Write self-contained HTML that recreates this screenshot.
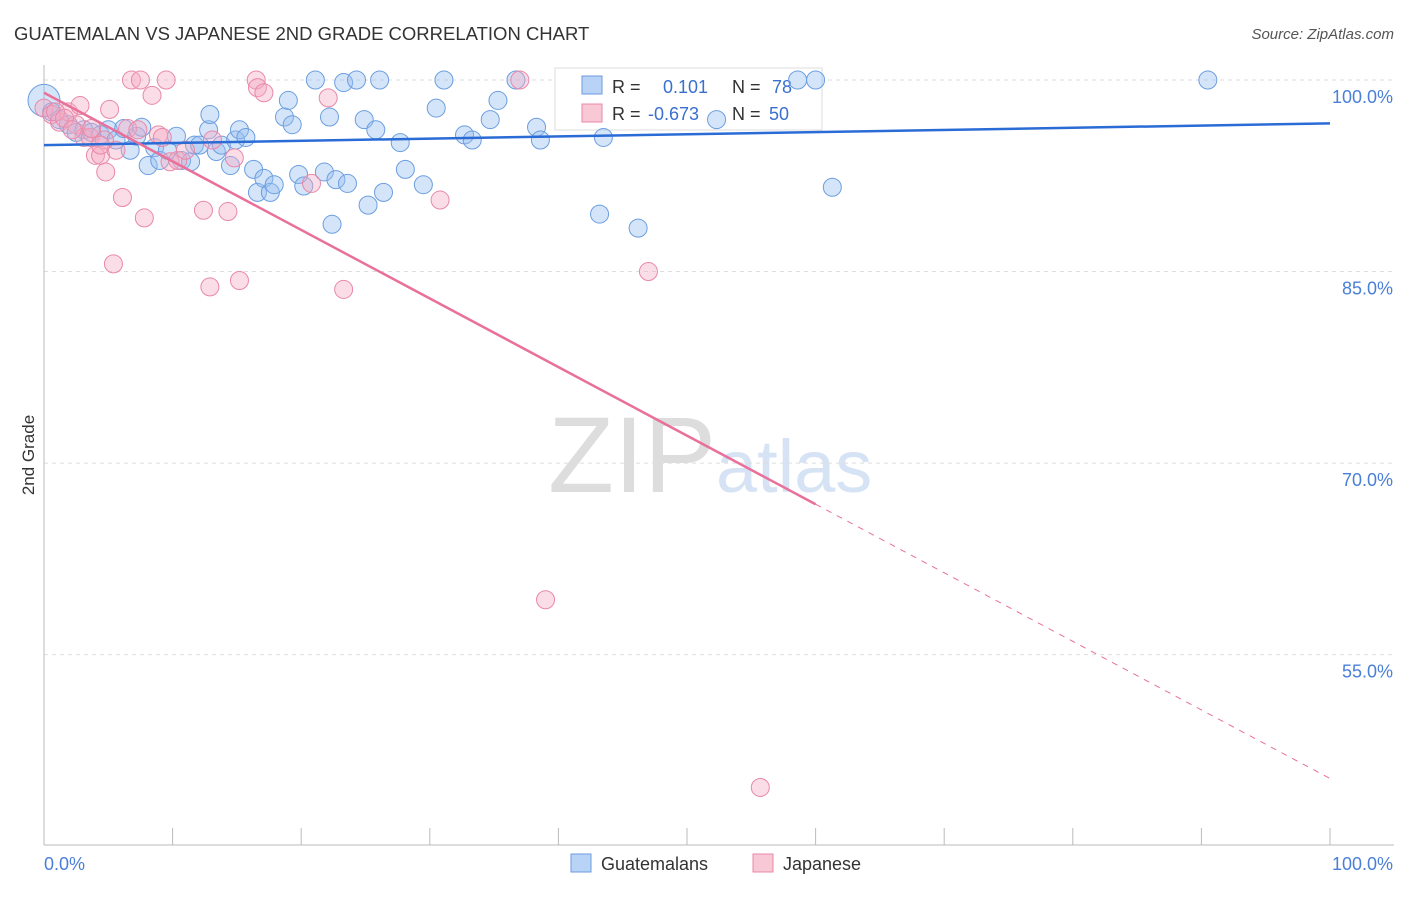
<!DOCTYPE html>
<html><head><meta charset="utf-8"><style>
body{margin:0;background:#fff;font-family:"Liberation Sans",sans-serif}
svg text{font-family:"Liberation Sans",sans-serif}
</style></head><body>
<svg id="c" width="1406" height="892">
<text x="14" y="40" font-size="18.5" fill="#333">GUATEMALAN VS JAPANESE 2ND GRADE CORRELATION CHART</text>
<text x="1394" y="39" font-size="15" fill="#555" font-style="italic" text-anchor="end">Source: ZipAtlas.com</text>
<text x="716" y="492" font-size="108" fill="#ddd" text-anchor="end" font-family="Liberation Serif">ZIP</text>
<text x="716" y="492" font-size="74" fill="#d6e3f5">atlas</text>
<text transform="translate(34,455) rotate(-90)" font-size="17" fill="#333" text-anchor="middle">2nd Grade</text>
<g id="grid"></g>
<g>
<rect x="555" y="68" width="267" height="62" fill="#fff" stroke="#ddd"/>
<rect x="582" y="76" width="20" height="18" fill="#b8d3f5" stroke="#6b9ee0"/>
<rect x="582" y="104" width="20" height="18" fill="#f8c8d6" stroke="#e889a8"/>
<text x="612" y="93" font-size="18" fill="#333">R = <tspan x="663" fill="#3a6fd0">0.101</tspan><tspan x="732" fill="#333">N = </tspan><tspan x="772" fill="#3a6fd0">78</tspan></text>
<text x="612" y="120" font-size="18" fill="#333">R = <tspan x="648" fill="#3a6fd0">-0.673</tspan><tspan x="732" fill="#333">N = </tspan><tspan x="769" fill="#3a6fd0">50</tspan></text>
</g>
<g id="pts"></g><g id="lines"></g>
<g>
<rect x="571" y="854" width="20" height="18" fill="#b8d3f5" stroke="#6b9ee0"/>
<text x="601" y="870" font-size="18" fill="#333">Guatemalans</text>
<rect x="753" y="854" width="20" height="18" fill="#f8c8d6" stroke="#e889a8"/>
<text x="783" y="870" font-size="18" fill="#333">Japanese</text>
</g>
</svg>
<script>
const yTicks=[100,85,70,55];
const xTickLabels=["0.0%","100.0%"];
const blueX=[0,0.6,1.2,1.9,2.5,3.1,3.7,4.4,5.0,5.6,6.2,6.7,7.2,7.6,8.1,8.6,9.0,9.6,10.3,10.7,11.4,11.7,12.1,12.8,12.9,13.4,13.8,14.5,14.9,15.2,15.7,16.3,16.6,17.1,17.6,17.9,18.7,19.0,19.3,19.8,20.2,21.1,21.8,22.2,22.7,23.3,23.6,24.3,24.9,25.2,25.8,26.1,26.4,27.7,28.1,29.5,30.5,31.1,32.7,33.3,34.7,35.3,36.7,38.3,38.6,43.2,43.5,46.2,52.3,58.6,60.0,61.3,90.5,22.4];
const blueY=[98.4,97.5,96.9,96.5,95.9,96.1,95.9,95.7,96.1,95.3,96.2,94.5,95.6,96.3,93.3,94.7,93.7,94.5,95.6,93.7,93.6,94.9,94.9,96.1,97.3,94.4,94.9,93.3,95.3,96.1,95.5,93.0,91.2,92.3,91.2,91.8,97.1,98.4,96.5,92.6,91.7,100,92.8,97.1,92.2,99.8,91.9,100,96.9,90.2,96.1,100,91.2,95.1,93.0,91.8,97.8,100,95.7,95.3,96.9,98.4,100,96.3,95.3,89.5,95.5,88.4,96.9,100,100,91.6,100,88.7];
const pinkX=[0,0.6,1.2,1.9,2.5,2.8,3.1,3.6,4.0,4.4,4.8,5.1,5.6,6.1,6.5,6.8,7.5,7.8,8.4,8.9,9.2,9.5,9.8,10.4,12.4,13.1,14.3,14.8,15.2,12.9,16.5,16.6,17.1,5.4,20.8,22.1,23.3,30.8,37.0,39.0,47.0,55.7,0.9,1.6,2.2,4.7,7.3,11.0,4.4,3.7];
const pinkY=[97.8,97.3,96.7,97.5,96.5,98.0,95.5,95.5,94.1,94.1,92.8,97.7,94.5,90.8,96.2,100,100,89.2,98.8,95.7,95.5,100,93.6,93.7,89.8,95.3,89.7,93.9,84.3,83.8,100,99.4,99.0,85.6,91.9,98.6,83.6,90.6,100,59.3,85.0,44.6,97.5,97.0,96.1,95.3,96.1,94.5,94.9,96.2];
const blueTrend=[94.9,96.6];
const pinkTrend=[99.0,45.3];
const NS="http://www.w3.org/2000/svg";
const X=v=>44+v*12.86, Y=v=>80+(100-v)*12.77;
function mk(t,a,p){const e=document.createElementNS(NS,t);for(const k in a)e.setAttribute(k,a[k]);p.appendChild(e);return e;}
const g=document.getElementById('grid');
yTicks.forEach(t=>{
 const l=mk('line',{x1:44,x2:1394,y1:Y(t),y2:Y(t),stroke:'#ddd','stroke-dasharray':'4,4'},g);
 
 
 const tx=mk('text',{x:1393,y:Y(t)+23,'font-size':18,fill:'#4a7fd8','text-anchor':'end'},g);
 tx.textContent=t.toFixed(1)+'%';
 
 
});
const ax=mk('line',{x1:44,x2:1394,y1:845,y2:845,stroke:'#bbb'},g);


const ay=mk('line',{x1:44,x2:44,y1:65,y2:845,stroke:'#bbb'},g);


for(let i=0;i<=10;i++){const l=mk('line',{x1:X(i*10),x2:X(i*10),y1:828,y2:845,stroke:'#bbb'},g);
 
 }
const t0=mk('text',{x:44,y:870,'font-size':18,fill:'#4a7fd8'},g);t0.textContent=xTickLabels[0];


const t1=mk('text',{x:1393,y:870,'font-size':18,fill:'#4a7fd8','text-anchor':'end'},g);t1.textContent=xTickLabels[1];


const P=document.getElementById('pts');
blueX.forEach((x,i)=>{const c=mk('circle',{cx:X(x),cy:Y(blueY[i]),r:i==0?16:9,fill:'rgba(150,190,240,0.4)',stroke:'#6b9ee0','stroke-width':1},P);
 
 });
pinkX.forEach((x,i)=>{const c=mk('circle',{cx:X(x),cy:Y(pinkY[i]),r:9,fill:'rgba(244,170,195,0.4)',stroke:'#e889a8','stroke-width':1},P);
 
 });
const L=document.getElementById('lines');
const bl=mk('line',{x1:X(0),y1:Y(blueTrend[0]),x2:X(100),y2:Y(blueTrend[1]),stroke:'#2a6bd6','stroke-width':2.5},L);


const pm=pinkTrend[0]+(pinkTrend[1]-pinkTrend[0])*0.6;
const pl=mk('line',{x1:X(0),y1:Y(pinkTrend[0]),x2:X(60),y2:Y(pm),stroke:'#e8709a','stroke-width':2.5},L);


const pd=mk('line',{x1:X(60),y1:Y(pm),x2:X(100),y2:Y(pinkTrend[1]),stroke:'#e8709a','stroke-width':1,'stroke-dasharray':'6,6'},L);


</script>
</body></html>
